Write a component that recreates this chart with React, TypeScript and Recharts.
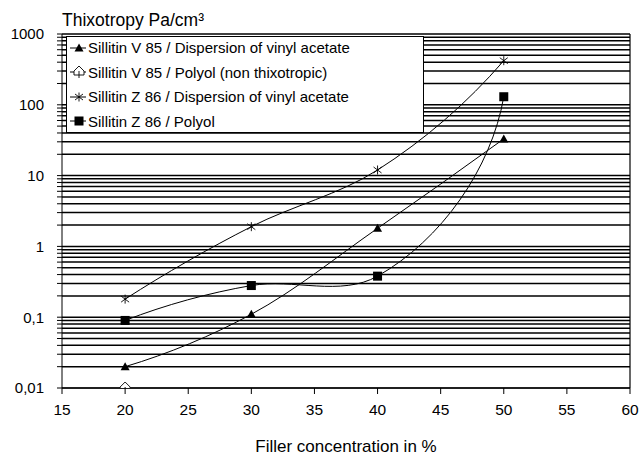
import React from 'react';
import {
  LineChart,
  Line,
  XAxis,
  YAxis,
  CartesianGrid,
  Legend,
  ReferenceLine,
} from 'recharts';

// Filler concentration (%) and thixotropy (Pa/cm³)
const concentrations = [20, 30, 40, 50];
const v85Vinyl = [0.02, 0.11, 1.8, 33];
const v85Polyol = [0.01, null, null, null];
const z86Vinyl = [0.18, 1.9, 12, 420];
const z86Polyol = [0.09, 0.28, 0.38, 130];

const xTicks = [15, 20, 25, 30, 35, 40, 45, 50, 55, 60];
const yDecades = [0.01, 0.1, 1, 10, 100, 1000];
const yDecadeLabels = ['0,01', '0,1', '1', '10', '100', '1000'];
const yMinorSteps = [2, 3, 4, 5, 6, 7, 8, 9];

const seriesList = [
  { key: 'v85Vinyl', name: 'Sillitin V 85 / Dispersion of vinyl acetate', marker: 'triangle' },
  { key: 'v85Polyol', name: 'Sillitin V 85 / Polyol (non thixotropic)', marker: 'house' },
  { key: 'z86Vinyl', name: 'Sillitin Z 86 / Dispersion of vinyl acetate', marker: 'star' },
  { key: 'z86Polyol', name: 'Sillitin Z 86 / Polyol', marker: 'square' },
];

const data = concentrations.map((c, i) => ({
  conc: c,
  v85Vinyl: v85Vinyl[i],
  v85Polyol: v85Polyol[i],
  z86Vinyl: z86Vinyl[i],
  z86Polyol: z86Polyol[i],
}));

// all log grid positions: every decade plus 2..9 inside it
const yTicks: number[] = [];
yDecades.forEach((d, i) => {
  yTicks.push(d);
  if (i < yDecades.length - 1) yMinorSteps.forEach((m) => yTicks.push(d * m));
});

const FONT = '"Liberation Sans", Arial, sans-serif';

// spreadsheet-style smoothed line: bezier segments, tangent at inner points
// bisects the two chords, end tangents mirror the neighbour across the chord
const smoothCurve = (context: any) => {
  let pts: number[][] = [];
  return {
    areaStart() {},
    areaEnd() {},
    lineStart() {
      pts = [];
    },
    point(x: number, y: number) {
      pts.push([+x, +y]);
    },
    lineEnd() {
      const n = pts.length;
      if (n === 0) return;
      context.moveTo(pts[0][0], pts[0][1]);
      if (n === 1) return;
      if (n === 2) {
        context.lineTo(pts[1][0], pts[1][1]);
        return;
      }
      const len: number[] = [];
      const u: number[][] = [];
      for (let i = 0; i < n - 1; i++) {
        const dx = pts[i + 1][0] - pts[i][0];
        const dy = pts[i + 1][1] - pts[i][1];
        len[i] = Math.hypot(dx, dy);
        u[i] = [dx / len[i], dy / len[i]];
      }
      const t: number[][] = [];
      for (let i = 1; i < n - 1; i++) {
        const bx = u[i - 1][0] + u[i][0];
        const by = u[i - 1][1] + u[i][1];
        const bl = Math.hypot(bx, by);
        t[i] = [bx / bl, by / bl];
      }
      const mirror = (tv: number[], c: number[]) => {
        const d = tv[0] * c[0] + tv[1] * c[1];
        return [2 * d * c[0] - tv[0], 2 * d * c[1] - tv[1]];
      };
      t[0] = mirror(t[1], u[0]);
      t[n - 1] = mirror(t[n - 2], u[n - 2]);
      for (let i = 0; i < n - 1; i++) {
        const a = len[i] / 3;
        context.bezierCurveTo(
          pts[i][0] + t[i][0] * a,
          pts[i][1] + t[i][1] * a,
          pts[i + 1][0] - t[i + 1][0] * a,
          pts[i + 1][1] - t[i + 1][1] * a,
          pts[i + 1][0],
          pts[i + 1][1]
        );
      }
    },
  };
};

function MarkerShape({ kind, cx, cy }: { kind: string; cx: number; cy: number }) {
  if (kind === 'triangle') {
    return <path d={`M${cx},${cy - 4.5}L${cx + 4.5},${cy + 3.5}L${cx - 4.5},${cy + 3.5}Z`} fill="#000" />;
  }
  if (kind === 'square') {
    return <rect x={cx - 4.5} y={cy - 4.5} width={9} height={9} fill="#000" />;
  }
  if (kind === 'star') {
    return (
      <path
        d={`M${cx - 4},${cy - 3}L${cx + 4},${cy + 3}M${cx + 4},${cy - 3}L${cx - 4},${cy + 3}M${cx},${cy - 4.5}L${cx},${cy + 4.5}`}
        stroke="#000"
        strokeWidth={0.9}
        fill="none"
      />
    );
  }
  // open "house" marker
  return (
    <g>
      <path
        d={`M${cx},${cy - 6}L${cx + 5},${cy - 1}L${cx + 5},${cy + 3}L${cx - 5},${cy + 3}L${cx - 5},${cy - 1}Z`}
        fill="#fff"
        stroke="#000"
        strokeWidth={0.9}
      />
      <path d={`M${cx},${cy - 1}L${cx},${cy + 8}`} stroke="#000" strokeWidth={0.9} />
    </g>
  );
}

const renderDot = (kind: string) => (props: any) => {
  const { cx, cy, index } = props;
  if (cx == null || cy == null || props.value == null) return <g key={index} />;
  return (
    <g key={index}>
      <MarkerShape kind={kind} cx={cx} cy={cy} />
    </g>
  );
};

const LegendBox = () => (
  <div
    style={{
      width: 358,
      height: 97,
      boxSizing: 'border-box',
      border: '1px solid #000',
      background: '#fff',
      fontFamily: FONT,
      fontSize: 15,
      color: '#000',
    }}
  >
    {seriesList.map((s) => (
      <div key={s.key} style={{ height: 24.5, display: 'flex', alignItems: 'center', position: 'relative', top: -1.5 }}>
        <svg width={21} height={12} style={{ flex: 'none' }}>
          <line x1={3} y1={6} x2={19} y2={6} stroke="#000" strokeWidth={1} />
          <MarkerShape kind={s.marker} cx={12} cy={6} />
        </svg>
        <span style={{ whiteSpace: 'nowrap' }}>{s.name}</span>
      </div>
    ))}
  </div>
);

export default function App() {
  return (
    <div style={{ position: 'absolute', left: 0, top: 0, width: 639, height: 457, background: '#fff', fontFamily: FONT }}>
      <div style={{ position: 'absolute', left: 62, top: 9.5, fontSize: 17.5, color: '#000', whiteSpace: 'nowrap' }}>
        Thixotropy Pa/cm³
      </div>
      <LineChart width={639} height={457} data={data} margin={{ top: 34, right: 9, left: 10, bottom: 39 }}>
        <CartesianGrid vertical={false} stroke="#000" strokeWidth={1.5} />
        <XAxis
          dataKey="conc"
          type="number"
          domain={[15, 60]}
          ticks={xTicks}
          interval={0}
          height={30}
          stroke="#000"
          tickSize={6}
          tickMargin={10}
          tick={{ fill: '#000', fontSize: 15.5, fontFamily: FONT }}
          label={{ value: 'Filler concentration in %', position: 'bottom', offset: 22, fill: '#000', fontSize: 17, fontFamily: FONT }}
        />
        <YAxis
          scale="log"
          domain={[0.01, 1000]}
          allowDataOverflow
          ticks={yTicks}
          interval={0}
          width={52}
          stroke="#000"
          tickSize={5}
          tickMargin={13}
          tick={{ fill: '#000', fontSize: 15, fontFamily: FONT }}
          tickFormatter={(v: number) => {
            const i = yDecades.indexOf(v);
            return i >= 0 ? yDecadeLabels[i] : '';
          }}
        />
        <ReferenceLine x={60} stroke="#000" strokeWidth={1.2} />
        <Legend
          layout="vertical"
          align="center"
          verticalAlign="middle"
          wrapperStyle={{ left: 66, top: 36, width: 358, height: 97 }}
          content={<LegendBox />}
        />
        {seriesList.map((s) => (
          <Line
            key={s.key}
            type={smoothCurve as any}
            dataKey={s.key}
            name={s.name}
            stroke="#000"
            strokeWidth={1}
            dot={renderDot(s.marker)}
            activeDot={false}
            connectNulls
            isAnimationActive={false}
          />
        ))}
      </LineChart>
    </div>
  );
}
